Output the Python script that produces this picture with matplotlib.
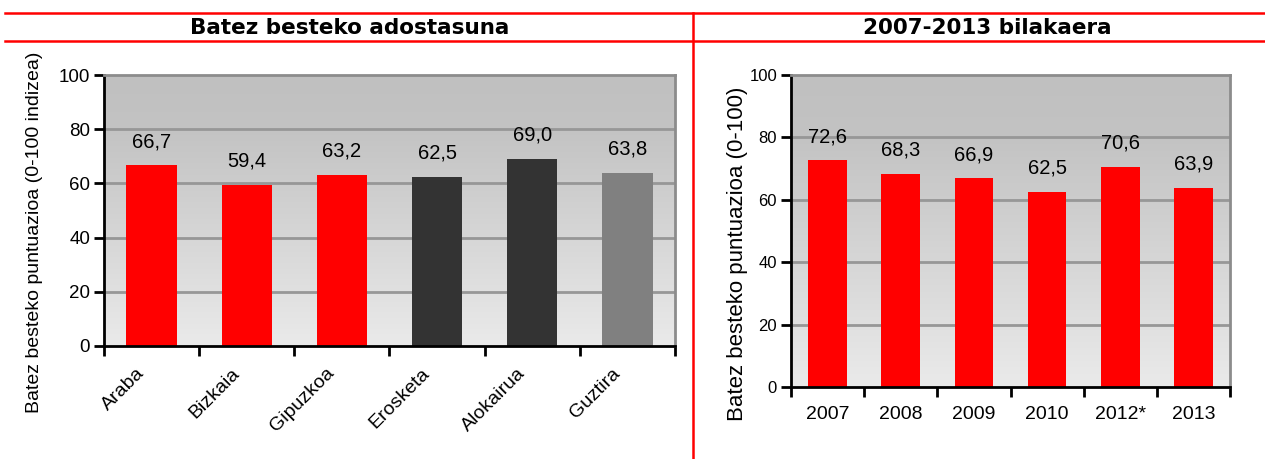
import numpy as np
import matplotlib
matplotlib.use("Agg")
import matplotlib.pyplot as plt
from matplotlib.lines import Line2D
from matplotlib.colors import LinearSegmentedColormap
from matplotlib.transforms import ScaledTranslation

# ---- data ----
left_title = "Batez besteko adostasuna"
left_categories = ["Araba", "Bizkaia", "Gipuzkoa", "Erosketa", "Alokairua", "Guztira"]
left_values = [66.7, 59.4, 63.2, 62.5, 69.0, 63.8]
left_colors = ["#FF0000", "#FF0000", "#FF0000", "#333333", "#333333", "#808080"]
left_ylabel = "Batez besteko puntuazioa (0-100 indizea)"

right_title = "2007-2013 bilakaera"
right_categories = ["2007", "2008", "2009", "2010", "2012*", "2013"]
right_values = [72.6, 68.3, 66.9, 62.5, 70.6, 63.9]
right_colors = ["#FF0000"] * 6
right_ylabel = "Batez besteko puntuazioa (0-100)"

yticks = [0, 20, 40, 60, 80, 100]

W, H = 1265, 459
fig = plt.figure(figsize=(W / 100, H / 100), dpi=100)
plt.rcParams['font.family'] = ['Liberation Sans', 'DejaVu Sans']

cmap = LinearSegmentedColormap.from_list("bg", [(0.0, "#EAEAEA"), (0.55, "#CFCFCF"), (0.8, "#C3C3C3"), (1.0, "#C0C0C0")])


def px_rect(l, t, r, b):
    return [l / W, (H - b) / H, (r - l) / W, (b - t) / H]


def make_chart(rect, cats, vals, cols, ytick_size, xtick_size, rotate):
    ax = fig.add_axes(rect)
    n = len(cats)
    ax.set_xlim(-0.5, n - 0.5)
    ax.set_ylim(0, 100)
    grad = np.linspace(0, 1, 256).reshape(-1, 1)
    ax.imshow(grad, cmap=cmap, origin="lower", aspect="auto",
              extent=(-0.5, n - 0.5, 0, 100), zorder=0)
    for y in yticks[1:-1]:
        ax.axhline(y, color="#979797", lw=2, zorder=1)
    x = np.arange(n)
    ax.bar(x, vals, width=0.53, color=cols, zorder=2)
    for xi, v in zip(x, vals):
        ax.annotate(f"{v:.1f}".replace(".", ","), (xi, v), xytext=(0, 17),
                    textcoords="offset points", ha="center", va="center",
                    fontsize=14.5, color="black", zorder=3)
    for s in ["left", "bottom"]:
        ax.spines[s].set_color("black")
        ax.spines[s].set_linewidth(2)
    for s in ["top", "right"]:
        ax.spines[s].set_color("#8C8C8C")
        ax.spines[s].set_linewidth(2)
    ax.set_yticks(yticks)
    ax.tick_params(axis="y", direction="out", length=7, width=2, labelsize=ytick_size, pad=3)
    ax.set_xticks(x)
    ax.set_xticks(np.arange(-0.5, n, 1.0), minor=True)
    ax.tick_params(axis="x", which="major", length=0, labelsize=xtick_size, pad=12)
    ax.tick_params(axis="x", which="minor", direction="out", length=7, width=2)
    if rotate:
        ax.set_xticklabels(cats, rotation=45, ha="right", rotation_mode="anchor")
    else:
        ax.set_xticklabels(cats)
    return ax


axL = make_chart(px_rect(104, 75, 675, 346), left_categories, left_values, left_colors, 13.5, 14, True)
axL.tick_params(axis="x", which="major", pad=12)
shift = ScaledTranslation(-16 / 100, -2 / 100, fig.dpi_scale_trans)
for lab in axL.get_xticklabels():
    lab.set_transform(lab.get_transform() + shift)

axR = make_chart(px_rect(791, 75, 1230, 387), right_categories, right_values, right_colors, 12, 14, False)
axR.tick_params(axis="x", which="major", pad=14)

fig.text(35 / W, 1 - 232 / H, left_ylabel, rotation=90, ha="center", va="center", fontsize=14)
fig.text(737 / W, 1 - 254 / H, right_ylabel, rotation=90, ha="center", va="center", fontsize=16)

# titles
fig.text(350 / W, 1 - 28 / H, left_title, ha="center", va="center", fontsize=15.5,
         fontweight="bold", family="DejaVu Sans")
fig.text(987 / W, 1 - 28 / H, right_title, ha="center", va="center", fontsize=15.5,
         fontweight="bold", family="DejaVu Sans")

# red frame lines
red = "#FF0000"
fig.add_artist(Line2D([5 / W, 1], [1 - 13 / H, 1 - 13 / H], color=red, lw=1.8, transform=fig.transFigure))
fig.add_artist(Line2D([5 / W, 1], [1 - 41 / H, 1 - 41 / H], color=red, lw=1.8, transform=fig.transFigure))
fig.add_artist(Line2D([693 / W, 693 / W], [0, 1 - 13 / H], color=red, lw=1.8, transform=fig.transFigure))

fig.savefig("out.png", dpi=100)
